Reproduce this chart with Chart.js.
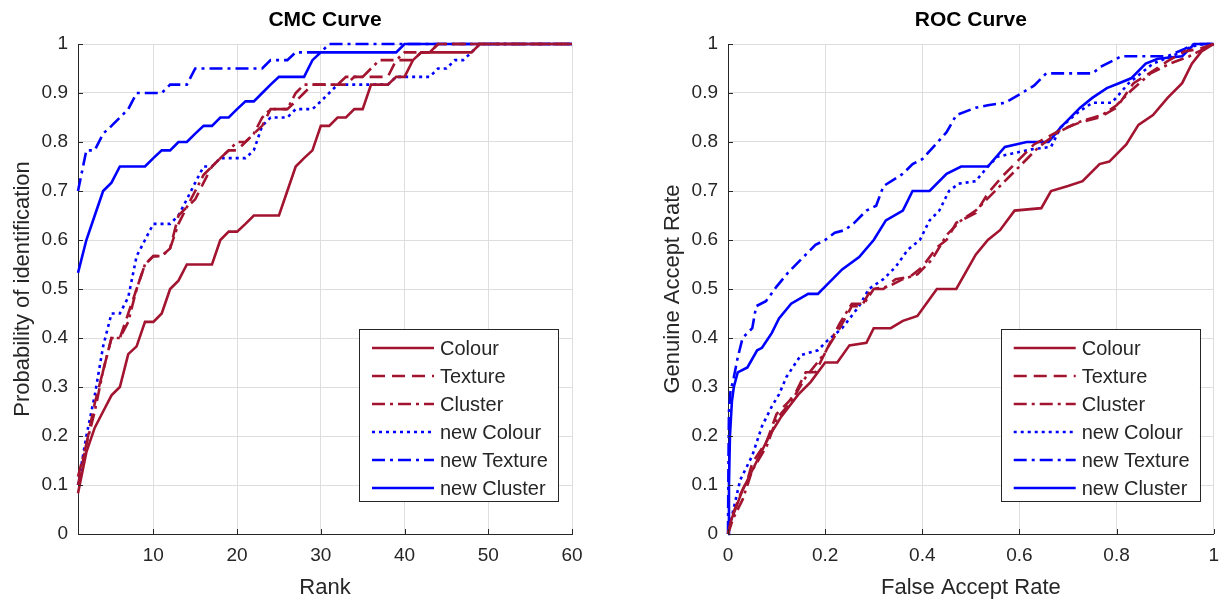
<!DOCTYPE html>
<html>
<head>
<meta charset="utf-8">
<title>CMC / ROC curves</title>
<script src="https://cdn.jsdelivr.net/npm/chart.js@4.4.1/dist/chart.umd.min.js"></script>
<style>
  html, body { margin: 0; padding: 0; background: #fff; }
  #wrap { position: relative; width: 1229px; height: 600px; overflow: hidden; }
  .panel { position: absolute; top: 0; height: 600px; }
  #cmc-panel { left: 0; width: 614px; }
  #roc-panel { left: 614px; width: 615px; }
</style>
</head>
<body>
<div id="wrap">
  <div class="panel" id="cmc-panel"><canvas id="cmc" width="614" height="600"></canvas></div>
  <div class="panel" id="roc-panel"><canvas id="roc" width="615" height="600"></canvas></div>
</div>
<script>
// ── DATA ──────────────────────────────────────────────────────────────────────
const SERIES_NAMES = ['Colour', 'Texture', 'Cluster', 'new Colour', 'new Texture', 'new Cluster'];

// CMC: rank 1..60
const RANKS = [1,2,3,4,5,6,7,8,9,10,11,12,13,14,15,16,17,18,19,20,
  21,22,23,24,25,26,27,28,29,30,31,32,33,34,35,36,37,38,39,40,
  41,42,43,44,45,46,47,48,49,50,51,52,53,54,55,56,57,58,59,60];

const cmcColour = [0.083,0.167,0.217,0.25,0.283,0.3,0.367,0.383,0.433,0.433,
  0.45,0.5,0.517,0.55,0.55,0.55,0.55,0.6,0.617,0.617,
  0.633,0.65,0.65,0.65,0.65,0.7,0.75,0.767,0.783,0.833,
  0.833,0.85,0.85,0.867,0.867,0.917,0.917,0.917,0.933,0.933,
  0.967,0.983,0.983,0.983,0.983,0.983,0.983,0.983,1,1,
  1,1,1,1,1,1,1,1,1,1];
const cmcTexture = [0.1,0.183,0.267,0.333,0.4,0.4,0.45,0.5,0.55,0.567,
  0.567,0.583,0.65,0.667,0.683,0.717,0.75,0.767,0.783,0.783,
  0.8,0.817,0.833,0.867,0.867,0.867,0.883,0.9,0.917,0.917,
  0.917,0.917,0.917,0.933,0.933,0.933,0.933,0.933,0.967,0.967,
  0.967,0.983,0.983,1,1,1,1,1,1,1,
  1,1,1,1,1,1,1,1,1,1];
const cmcCluster = [0.117,0.183,0.25,0.333,0.4,0.4,0.433,0.5,0.55,0.567,
  0.567,0.583,0.633,0.667,0.7,0.733,0.75,0.767,0.783,0.8,
  0.8,0.817,0.85,0.867,0.867,0.867,0.9,0.917,0.917,0.917,
  0.917,0.917,0.933,0.933,0.933,0.95,0.967,0.967,0.967,0.983,
  0.983,0.983,0.983,1,1,1,1,1,1,1,
  1,1,1,1,1,1,1,1,1,1];
const cmcNewColour = [0.1,0.2,0.283,0.383,0.45,0.45,0.483,0.567,0.6,0.633,
  0.633,0.633,0.65,0.683,0.717,0.75,0.75,0.767,0.767,0.767,
  0.767,0.783,0.833,0.85,0.85,0.85,0.867,0.867,0.867,0.883,
  0.9,0.917,0.917,0.917,0.917,0.917,0.917,0.917,0.933,0.933,
  0.933,0.933,0.933,0.95,0.95,0.967,0.967,0.983,1,1,
  1,1,1,1,1,1,1,1,1,1];
const cmcNewTexture = [0.7,0.783,0.783,0.817,0.833,0.85,0.867,0.9,0.9,0.9,
  0.9,0.917,0.917,0.917,0.95,0.95,0.95,0.95,0.95,0.95,
  0.95,0.95,0.95,0.967,0.967,0.967,0.983,0.983,0.983,0.983,
  1,1,1,1,1,1,1,1,1,1,
  1,1,1,1,1,1,1,1,1,1,
  1,1,1,1,1,1,1,1,1,1];
const cmcNewCluster = [0.533,0.6,0.65,0.7,0.717,0.75,0.75,0.75,0.75,0.767,
  0.783,0.783,0.8,0.8,0.817,0.833,0.833,0.85,0.85,0.867,
  0.883,0.883,0.9,0.917,0.933,0.933,0.933,0.933,0.967,0.983,
  0.983,0.983,0.983,0.983,0.983,0.983,0.983,0.983,0.983,1,
  1,1,1,1,1,1,1,1,1,1,
  1,1,1,1,1,1,1,1,1,1];

// ROC: false accept rate (x) / genuine accept rate (y)
const rocColourFar = [0,0.007,0.015,0.03,0.06,0.085,0.11,0.145,0.17,0.2,0.225,0.25,0.285,0.3,0.335,0.36,0.39,0.43,0.47,0.51,0.535,0.56,0.59,0.645,0.665,0.7,0.73,0.765,0.785,0.82,0.845,0.875,0.905,0.935,0.955,0.975,1];
const rocColourGar = [0,0.03,0.05,0.09,0.15,0.2,0.24,0.285,0.31,0.35,0.35,0.385,0.39,0.42,0.42,0.435,0.445,0.5,0.5,0.57,0.6,0.62,0.66,0.665,0.7,0.71,0.72,0.755,0.76,0.795,0.835,0.855,0.89,0.92,0.96,0.985,1];

const rocTextureFar = [0,0.01,0.025,0.04,0.05,0.08,0.1,0.125,0.14,0.16,0.18,0.205,0.23,0.255,0.275,0.295,0.32,0.345,0.375,0.4,0.43,0.45,0.47,0.51,0.535,0.565,0.6,0.63,0.685,0.725,0.765,0.8,0.835,0.875,0.905,0.94,0.97,1];
const rocTextureGar = [0,0.04,0.08,0.11,0.145,0.19,0.245,0.27,0.29,0.33,0.33,0.38,0.42,0.465,0.465,0.5,0.5,0.52,0.525,0.545,0.585,0.6,0.635,0.655,0.695,0.73,0.765,0.795,0.825,0.84,0.85,0.87,0.92,0.945,0.965,0.985,0.99,1];

const rocClusterFar = [0,0.01,0.03,0.05,0.08,0.1,0.13,0.16,0.2,0.23,0.255,0.28,0.3,0.33,0.36,0.39,0.42,0.45,0.48,0.51,0.54,0.57,0.6,0.64,0.68,0.72,0.77,0.8,0.83,0.87,0.91,0.95,0.98,1];
const rocClusterGar = [0,0.03,0.07,0.13,0.18,0.235,0.27,0.32,0.37,0.43,0.47,0.47,0.5,0.505,0.52,0.53,0.56,0.61,0.64,0.66,0.69,0.72,0.75,0.79,0.82,0.84,0.855,0.875,0.905,0.94,0.96,0.975,0.99,1];

const rocNewColourFar = [0,0.005,0.01,0.025,0.05,0.07,0.09,0.105,0.12,0.15,0.185,0.205,0.235,0.27,0.29,0.32,0.345,0.37,0.395,0.415,0.435,0.455,0.475,0.51,0.535,0.555,0.625,0.665,0.685,0.72,0.75,0.79,0.825,0.875,0.925,0.955,0.98,1];
const rocNewColourGar = [0,0.02,0.045,0.11,0.16,0.22,0.26,0.285,0.32,0.365,0.375,0.395,0.42,0.465,0.5,0.52,0.545,0.58,0.6,0.64,0.66,0.7,0.715,0.72,0.75,0.77,0.785,0.79,0.83,0.86,0.88,0.88,0.92,0.96,0.98,0.995,1,1];

const rocNewTextureFar = [0,0.001,0.002,0.005,0.012,0.02,0.03,0.05,0.058,0.078,0.1,0.125,0.15,0.18,0.2,0.22,0.24,0.26,0.285,0.305,0.32,0.36,0.38,0.4,0.45,0.47,0.51,0.535,0.57,0.605,0.63,0.655,0.75,0.77,0.81,0.905,0.94,0.96,1];
const rocNewTextureGar = [0,0.15,0.25,0.29,0.32,0.36,0.4,0.42,0.465,0.475,0.505,0.535,0.56,0.59,0.6,0.615,0.62,0.635,0.66,0.67,0.71,0.735,0.755,0.765,0.82,0.855,0.87,0.875,0.88,0.9,0.915,0.94,0.94,0.955,0.975,0.975,0.99,1,1];

const rocNewClusterFar = [0,0.002,0.004,0.008,0.012,0.02,0.04,0.06,0.07,0.09,0.105,0.13,0.165,0.185,0.205,0.235,0.27,0.3,0.325,0.36,0.38,0.415,0.45,0.48,0.535,0.57,0.615,0.66,0.685,0.725,0.75,0.78,0.805,0.83,0.86,0.885,0.935,0.96,1];
const rocNewClusterGar = [0,0.1,0.2,0.27,0.3,0.33,0.34,0.375,0.38,0.41,0.44,0.47,0.49,0.49,0.51,0.54,0.565,0.6,0.64,0.66,0.7,0.7,0.735,0.75,0.75,0.79,0.8,0.8,0.83,0.87,0.89,0.91,0.92,0.93,0.96,0.97,0.975,1,1];

// axis ticks
const CMC_X_TICKS = [10, 20, 30, 40, 50, 60];
const ROC_X_TICKS = [0, 0.2, 0.4, 0.6, 0.8, 1];
const Y_TICKS = [0, 0.1, 0.2, 0.3, 0.4, 0.5, 0.6, 0.7, 0.8, 0.9, 1];

// ── STYLE ─────────────────────────────────────────────────────────────────────
const FONT = '"Liberation Sans", Arial, sans-serif';
const AXIS_COLOR = '#262626';
const GRID_COLOR = '#dedede';
const RED = '#A2142F';
const BLUE = '#0000FF';
const LW = 2.6;

const LINE_STYLES = [
  { color: RED,  dash: [] },
  { color: RED,  dash: [13, 7] },
  { color: RED,  dash: [13, 5, 3, 5] },
  { color: BLUE, dash: [3, 4] },
  { color: BLUE, dash: [13, 5, 3, 5] },
  { color: BLUE, dash: [] }
];

function toPoints(xs, ys) {
  return xs.map((x, i) => ({ x, y: ys[i] }));
}

function makeDatasets(seriesPoints) {
  return seriesPoints.map((pts, i) => ({
    label: SERIES_NAMES[i],
    data: pts,
    borderColor: LINE_STYLES[i].color,
    borderDash: LINE_STYLES[i].dash,
    borderWidth: LW,
    borderCapStyle: 'butt',
    pointRadius: 0,
    tension: 0,
    fill: false,
    clip: 4
  }));
}

// ── DECORATIONS: title, inward ticks, legend box ─────────────────────────────
const decorations = {
  id: 'decorations',
  afterDraw(chart, args, opts) {
    const { ctx, chartArea: a, scales: { x, y } } = chart;
    ctx.save();

    // small inward tick marks (MATLAB style)
    ctx.strokeStyle = AXIS_COLOR;
    ctx.lineWidth = 1;
    ctx.setLineDash([]);
    ctx.beginPath();
    y.ticks.forEach(t => {
      const py = Math.round(y.getPixelForValue(t.value)) + 0.5;
      ctx.moveTo(a.left, py);
      ctx.lineTo(a.left + 5, py);
    });
    x.ticks.forEach(t => {
      const px = Math.round(x.getPixelForValue(t.value)) + 0.5;
      ctx.moveTo(px, a.bottom);
      ctx.lineTo(px, a.bottom - 5);
    });
    ctx.stroke();

    // title
    ctx.fillStyle = '#000';
    ctx.font = 'bold 21px ' + FONT;
    ctx.textAlign = 'center';
    ctx.textBaseline = 'middle';
    ctx.fillText(opts.title, (a.left + a.right) / 2, 20);

    // legend, south-east corner
    const w = 199, h = 172;
    const bx = a.right - 14 - w;
    const by = a.bottom - 33 - h;
    ctx.fillStyle = '#fff';
    ctx.fillRect(bx, by, w, h);
    ctx.strokeStyle = AXIS_COLOR;
    ctx.lineWidth = 1;
    ctx.strokeRect(Math.round(bx) + 0.5, Math.round(by) + 0.5, w, h);

    ctx.font = '20px ' + FONT;
    ctx.textAlign = 'left';
    chart.data.datasets.forEach((ds, i) => {
      const ly = by + 19 + i * 28;
      ctx.strokeStyle = ds.borderColor;
      ctx.lineWidth = LW;
      ctx.lineCap = 'butt';
      ctx.setLineDash(ds.borderDash);
      ctx.beginPath();
      ctx.moveTo(bx + 13, ly);
      ctx.lineTo(bx + 75, ly);
      ctx.stroke();
      ctx.fillStyle = AXIS_COLOR;
      ctx.fillText(ds.label, bx + 81, ly + 1);
    });
    ctx.restore();
  }
};

function makeOptions(cfg) {
  return {
    responsive: false,
    animation: false,
    layout: { padding: { top: 44, right: cfg.padRight, bottom: 0, left: 0 } },
    plugins: {
      legend: { display: false },
      tooltip: { enabled: false },
      decorations: { title: cfg.title }
    },
    scales: {
      x: {
        type: 'linear',
        min: cfg.xMin,
        max: cfg.xMax,
        afterBuildTicks: s => { s.ticks = cfg.xTicks.map(v => ({ value: v })); },
        afterFit: s => { s.height = 66; },
        ticks: {
          color: AXIS_COLOR,
          font: { family: FONT, size: 19 },
          padding: 10,
          maxRotation: 0,
          callback: v => String(v)
        },
        grid: { color: GRID_COLOR, lineWidth: 1, drawTicks: false },
        border: { color: AXIS_COLOR, width: 1 },
        title: {
          display: true,
          text: cfg.xTitle,
          color: AXIS_COLOR,
          font: { family: FONT, size: 22, lineHeight: 1 },
          padding: { top: 0, bottom: 1 }
        }
      },
      y: {
        type: 'linear',
        min: 0,
        max: 1,
        afterBuildTicks: s => { s.ticks = Y_TICKS.map(v => ({ value: v })); },
        afterFit: s => { s.width = cfg.yWidth; },
        ticks: {
          color: AXIS_COLOR,
          font: { family: FONT, size: 19 },
          padding: 10,
          callback: v => String(v)
        },
        grid: { color: GRID_COLOR, lineWidth: 1, drawTicks: false },
        border: { color: AXIS_COLOR, width: 1 },
        title: {
          display: true,
          text: cfg.yTitle,
          color: AXIS_COLOR,
          font: { family: FONT, size: 22, lineHeight: 1 },
          padding: { top: cfg.yTitlePad, bottom: 0 }
        }
      }
    }
  };
}

// ── CMC CHART ─────────────────────────────────────────────────────────────────
new Chart(document.getElementById('cmc'), {
  type: 'line',
  data: {
    datasets: makeDatasets([
      toPoints(RANKS, cmcColour),
      toPoints(RANKS, cmcTexture),
      toPoints(RANKS, cmcCluster),
      toPoints(RANKS, cmcNewColour),
      toPoints(RANKS, cmcNewTexture),
      toPoints(RANKS, cmcNewCluster)
    ])
  },
  options: makeOptions({
    title: 'CMC Curve',
    xTitle: 'Rank',
    yTitle: 'Probability of identification',
    xMin: 1, xMax: 60, xTicks: CMC_X_TICKS,
    padRight: 42, yWidth: 78, yTitlePad: 12
  }),
  plugins: [decorations]
});

// ── ROC CHART ─────────────────────────────────────────────────────────────────
new Chart(document.getElementById('roc'), {
  type: 'line',
  data: {
    datasets: makeDatasets([
      toPoints(rocColourFar, rocColourGar),
      toPoints(rocTextureFar, rocTextureGar),
      toPoints(rocClusterFar, rocClusterGar),
      toPoints(rocNewColourFar, rocNewColourGar),
      toPoints(rocNewTextureFar, rocNewTextureGar),
      toPoints(rocNewClusterFar, rocNewClusterGar)
    ])
  },
  options: makeOptions({
    title: 'ROC Curve',
    xTitle: 'False Accept Rate',
    yTitle: 'Genuine Accept Rate',
    xMin: 0, xMax: 1, xTicks: ROC_X_TICKS,
    padRight: 6, yWidth: 114, yTitlePad: 48
  }),
  plugins: [decorations]
});
</script>
</body>
</html>
